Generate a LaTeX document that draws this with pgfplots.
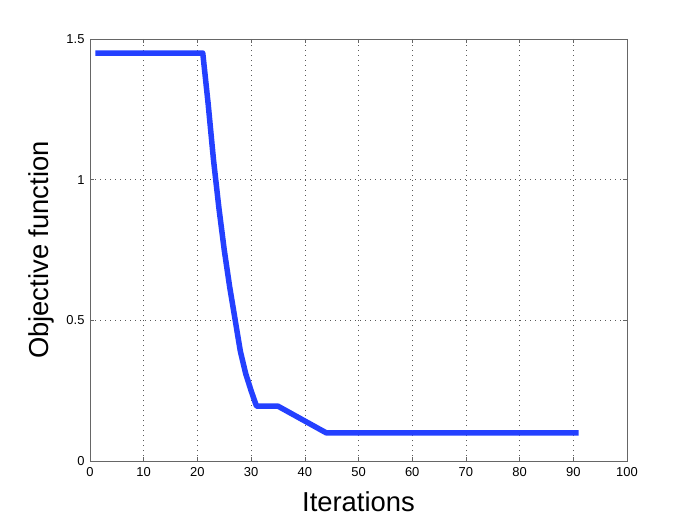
\documentclass[border=0pt]{standalone}
\usepackage{pgfplots}
\pgfplotsset{compat=1.18}
\usepackage{fontspec}
\setmainfont{Liberation Sans}
\definecolor{curve}{RGB}{36,64,255}
\begin{document}
\begin{tikzpicture}[x=1bp,y=1bp]
\path[use as bounding box] (-90bp,-57bp) rectangle (602bp,461bp);
\begin{axis}[
  at={(0,0)}, anchor=south west,
  scale only axis,
  width=537bp, height=422bp,
  xmin=0, xmax=100, ymin=0, ymax=1.5,
  xtick={0,10,...,100},
  ytick={0,0.5,1,1.5},
  yticklabels={0,0.5,1,1.5},
  /pgf/number format/assume math mode=true,
  tick label style={font=\fontsize{13}{15}\selectfont, text=black},
  xticklabel style={yshift=-3bp},
  yticklabel style={xshift=-2bp},
  tick align=inside,
  tick pos=both,
  major tick length=4bp,
  axis line style={draw=black!60, line width=0.8pt},
  every tick/.style={draw=black!60, line width=0.6pt},
  grid=major,
  major grid style={draw=black!65, line width=0.6pt, dash pattern=on 0.7bp off 4.3bp},
  xlabel={Iterations},
  ylabel={Objective function},
  label style={font=\fontsize{27.5}{32}\selectfont},
  xlabel style={yshift=-8.5bp},
  ylabel style={yshift=5bp},
]
\addplot[curve, line width=5.5bp, line join=round] coordinates {
(1,1.45) (21,1.45) (22,1.27) (23,1.07) (24,0.9) (25,0.75) (26,0.62) (27,0.505)
(28,0.39) (29,0.31) (30,0.25) (31,0.195) (35,0.195) (44,0.1) (91,0.1)
};
\end{axis}
\end{tikzpicture}
\end{document}
